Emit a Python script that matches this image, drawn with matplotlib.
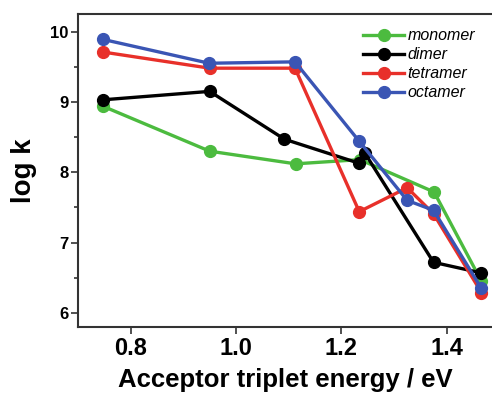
import matplotlib.pyplot as plt
from matplotlib.ticker import MultipleLocator

# data
monomer_x = [0.747, 0.950, 1.113, 1.235, 1.376, 1.466]
monomer_y = [8.94, 8.30, 8.12, 8.18, 7.72, 6.45]
dimer_x = [0.747, 0.950, 1.092, 1.233, 1.244, 1.375, 1.465]
dimer_y = [9.03, 9.15, 8.47, 8.13, 8.28, 6.72, 6.57]
tetramer_x = [0.747, 0.950, 1.112, 1.234, 1.325, 1.375, 1.466]
tetramer_y = [9.71, 9.48, 9.48, 7.44, 7.78, 7.41, 6.29]
octamer_x = [0.747, 0.949, 1.112, 1.234, 1.325, 1.375, 1.465]
octamer_y = [9.89, 9.55, 9.57, 8.44, 7.60, 7.46, 6.36]

x_ticks = [0.8, 1.0, 1.2, 1.4]
y_ticks = [6, 7, 8, 9, 10]

plt.rcParams['font.family'] = ['Liberation Sans', 'DejaVu Sans']

fig = plt.figure(figsize=(4.92, 3.96), dpi=100)
ax = fig.add_axes([0.1585, 0.1742, 0.8415, 0.7904])

series = [
    ('monomer', monomer_x, monomer_y, '#4cbb3f'),
    ('dimer', dimer_x, dimer_y, '#000000'),
    ('tetramer', tetramer_x, tetramer_y, '#e8302a'),
    ('octamer', octamer_x, octamer_y, '#3a55b4'),
]
for name, xs, ys, col in series:
    ax.plot(xs, ys, '-o', color=col, lw=2.4, ms=8.5, label=name)

ax.set_xlim(0.7, 1.486)
ax.set_ylim(5.8, 10.25)
ax.set_xticks(x_ticks)
ax.set_yticks(y_ticks)
ax.yaxis.set_minor_locator(MultipleLocator(0.5))
ax.set_xticklabels(['%.1f' % t for t in x_ticks], fontsize=17, fontweight='bold')
ax.set_yticklabels([str(t) for t in y_ticks], fontsize=12, fontweight='bold')
ax.tick_params(direction='out', length=5, width=1.2, color='#333333', pad=2)
ax.tick_params(which='minor', direction='out', length=3, width=1.2, color='#333333')
ax.spines['right'].set_visible(False)
for s in ['left', 'top', 'bottom']:
    ax.spines[s].set_linewidth(1.5)
    ax.spines[s].set_color('#333333')

ax.set_xlabel('Acceptor triplet energy / eV', fontsize=18.5, fontweight='bold', labelpad=6)
ax.set_ylabel('log k', fontsize=20, fontweight='bold', labelpad=9)

ax.legend(loc='upper right', bbox_to_anchor=(0.975, 0.975), frameon=False,
          prop={'style': 'italic', 'size': 11.5}, handlelength=2.6,
          handletextpad=0.2, labelspacing=0.25, borderaxespad=0)

fig.savefig('out.png', dpi=100)
